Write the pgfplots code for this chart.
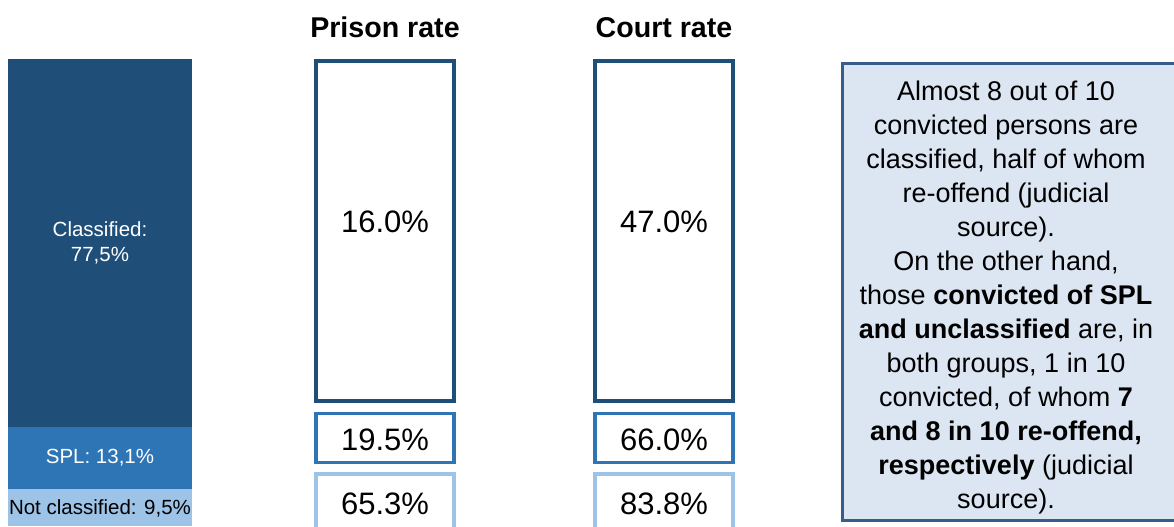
\documentclass[border=0pt]{standalone}
\usepackage{pgfplots}
\pgfplotsset{compat=1.18}
\usepackage{fontspec}
\setmainfont{Liberation Sans}
\definecolor{cdark}{HTML}{1F4E79}
\definecolor{cmid}{HTML}{2E75B6}
\definecolor{clight}{HTML}{9DC3E6}
\definecolor{boxfill}{HTML}{DCE6F2}
\definecolor{boxline}{HTML}{385D8A}
\begin{document}
\begin{tikzpicture}
\begin{axis}[
  name=main,
  width=587pt, height=263pt, scale only axis,
  xmin=0, xmax=1174, ymin=1.684, ymax=112.42,
  hide axis,
  ybar stacked, bar width=184,
]
% stacked bar: Not classified, SPL, Classified (percent)
\addplot[fill=clight, draw=none] coordinates {(100,9.5)};
\addplot[fill=cmid, draw=none] coordinates {(100,13.1)};
\addplot[fill=cdark, draw=none] coordinates {(100,77.5)};
% prison boxes
\draw[cdark, line width=1.75pt] (axis cs:316,99.63) rectangle (axis cs:454,27.95);
\draw[cmid, line width=1.75pt] (axis cs:316,25.32) rectangle (axis cs:454,15.05);
\draw[clight, line width=1.75pt] (axis cs:316,12.68) rectangle (axis cs:454,-2);
% court boxes
\draw[cdark, line width=1.75pt] (axis cs:595,99.63) rectangle (axis cs:733,27.95);
\draw[cmid, line width=1.75pt] (axis cs:595,25.32) rectangle (axis cs:733,15.05);
\draw[clight, line width=1.75pt] (axis cs:595,12.68) rectangle (axis cs:733,-2);
% text box
\draw[boxline, fill=boxfill, line width=1.5pt] (axis cs:842.5,99.05) rectangle (axis cs:1180,2.84);
% anchor coordinates for labels
\coordinate (lcl) at (axis cs:100,61.35);
\coordinate (lspl) at (axis cs:100,16.05);
\coordinate (lnc) at (axis cs:100,5.4);
\coordinate (tp) at (axis cs:385,106.7);
\coordinate (tc) at (axis cs:664,106.7);
\coordinate (p1) at (axis cs:385,65.7);
\coordinate (p2) at (axis cs:385,19.9);
\coordinate (p3) at (axis cs:385,6.3);
\coordinate (c1) at (axis cs:664,65.7);
\coordinate (c2) at (axis cs:664,19.9);
\coordinate (c3) at (axis cs:664,6.3);
\coordinate (tb) at (axis cs:1006,49.7);
\end{axis}
\node[white, align=center, font=\fontsize{10.25}{12.5}\selectfont] at (lcl) {Classified:\\77,5\%};
\node[white, font=\fontsize{10.25}{12.5}\selectfont] at (lspl) {SPL: 13,1\%};
\node[black, font=\fontsize{10.25}{12.5}\selectfont] at (lnc) {Not classified: 9,5\%};
\node[font=\bfseries\fontsize{14.3}{17}\selectfont] at (tp) {Prison rate};
\node[font=\bfseries\fontsize{14.3}{17}\selectfont] at (tc) {Court rate};
\node[font=\fontsize{15.5}{19}\selectfont] at (p1) {16.0\%};
\node[font=\fontsize{15.5}{19}\selectfont] at (p2) {19.5\%};
\node[font=\fontsize{15.5}{19}\selectfont] at (p3) {65.3\%};
\node[font=\fontsize{15.5}{19}\selectfont] at (c1) {47.0\%};
\node[font=\fontsize{15.5}{19}\selectfont] at (c2) {66.0\%};
\node[font=\fontsize{15.5}{19}\selectfont] at (c3) {83.8\%};
\node[align=center, font=\fontsize{13.5}{17}\selectfont] at (tb) {Almost 8 out of 10\\
convicted persons are\\
classified, half of whom\\
re-offend (judicial\\
source).\\
On the other hand,\\
those \textbf{convicted of SPL}\\
\textbf{and unclassified} are, in\\
both groups, 1 in 10\\
convicted, of whom \textbf{7}\\
\textbf{and 8 in 10 re-offend,}\\
\textbf{respectively} (judicial\\
source).};
\pgfresetboundingbox
\path[use as bounding box] (main.south west) rectangle (main.north east);
\end{tikzpicture}
\end{document}
